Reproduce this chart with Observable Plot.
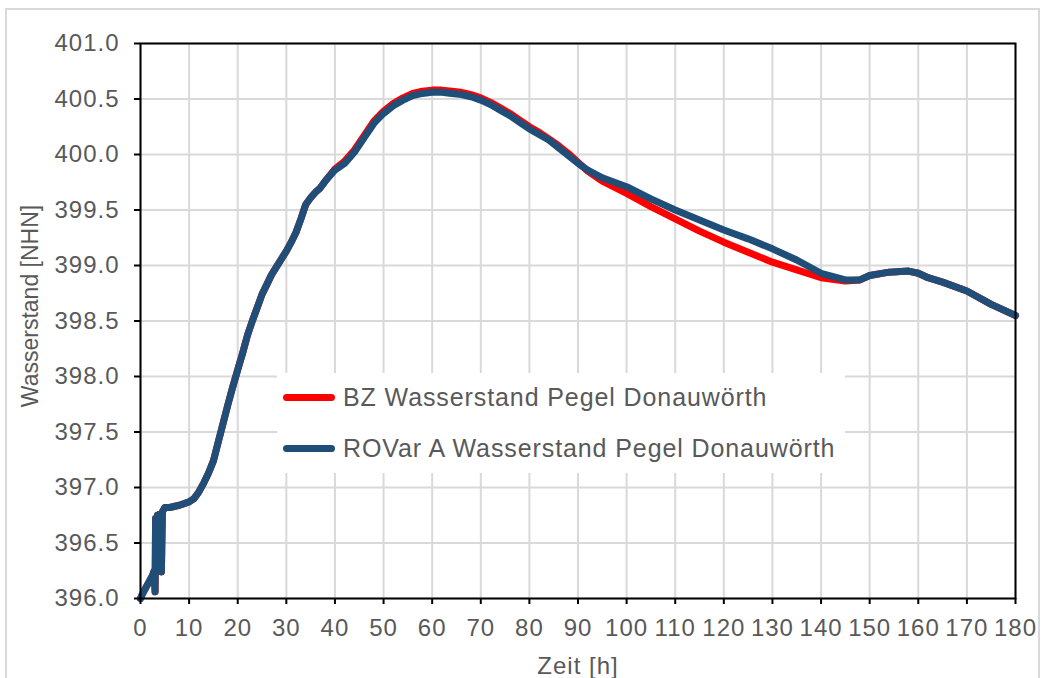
<!DOCTYPE html>
<html>
<head>
<meta charset="utf-8">
<script src="https://cdn.jsdelivr.net/npm/d3@7"></script>
<script src="https://cdn.jsdelivr.net/npm/@observablehq/plot@0.6"></script>
<style>
  html, body { margin: 0; padding: 0; background: #fff; overflow: hidden; }
  #wrap { position: relative; width: 1043px; height: 678px; font-family: "Liberation Sans", Arial, sans-serif; overflow: hidden; }
  #frame { position: absolute; left: 5px; top: 8px; width: 1031px; height: 690px; border: 2px solid #d9d9d9; pointer-events: none; }
  #legend { position: absolute; left: 277px; top: 373px; width: 568px; height: 100px; background: #fff; }
  .item { position: absolute; left: 0; display: flex; align-items: center; font-size: 25px; letter-spacing: 0.9px; color: #595959; white-space: nowrap; }
  .sw { width: 52px; height: 7px; border-radius: 4px; margin-left: 6px; margin-right: 8px; }
  #xlabel { position: absolute; left: 578px; top: 654px; transform: translateX(-50%); font-size: 24px; line-height: 24px; letter-spacing: 1px; color: #595959; white-space: nowrap; }
  #ylabel { position: absolute; left: 30px; top: 306px; transform: translate(-50%, -50%) rotate(-90deg); font-size: 23px; line-height: 24px; color: #595959; white-space: nowrap; }
</style>
</head>
<body>
<div id="wrap">
  <div id="chart"></div>
  <div id="legend"></div>
  <div id="xlabel"></div>
  <div id="ylabel"></div>
  <div id="frame"></div>
</div>
<script>
const hours = [0,0.5,1,1.5,2,2.5,2.8,3.0,3.1,3.3,3.5,3.7,3.9,4.1,4.3,4.5,5,6,8,10,11,12,13,14,15,16,17,18,19,20,21,22,23,24,25,26,27,28,29,30,31,32,33,34,35,36,37,38,40,42,44,46,48,50,52,54,56,58,60,62,64,66,68,70,72,74,76,78,80,82,84,86,88,90,92,95,100,105,110,115,120,125,130,135,140,145,148,150,154,158,160,162,165,170,175,180];

const rovarA = [396.00,396.05,396.09,396.13,396.17,396.21,396.25,396.06,396.72,396.30,396.75,396.40,396.76,396.30,396.24,396.78,396.82,396.82,396.84,396.87,396.90,396.96,397.04,397.13,397.24,397.41,397.58,397.75,397.91,398.06,398.21,398.37,398.50,398.62,398.74,398.83,398.92,398.99,399.06,399.13,399.21,399.30,399.42,399.55,399.61,399.66,399.70,399.76,399.86,399.92,400.02,400.15,400.28,400.37,400.44,400.49,400.53,400.55,400.56,400.56,400.55,400.54,400.52,400.49,400.45,400.40,400.35,400.29,400.23,400.18,400.13,400.06,399.99,399.92,399.86,399.79,399.71,399.60,399.50,399.41,399.32,399.24,399.15,399.05,398.93,398.87,398.87,398.91,398.94,398.95,398.93,398.89,398.85,398.77,398.65,398.55];

const bz = [396.00,396.05,396.09,396.13,396.17,396.21,396.25,396.06,396.72,396.30,396.75,396.40,396.76,396.30,396.24,396.78,396.82,396.82,396.84,396.87,396.90,396.96,397.04,397.13,397.24,397.41,397.58,397.75,397.91,398.06,398.21,398.37,398.50,398.62,398.74,398.83,398.92,398.99,399.06,399.13,399.21,399.30,399.42,399.55,399.61,399.66,399.70,399.76,399.87,399.94,400.04,400.17,400.30,400.39,400.46,400.51,400.55,400.57,400.58,400.58,400.57,400.56,400.54,400.51,400.47,400.42,400.37,400.31,400.25,400.20,400.14,400.08,400.01,399.93,399.85,399.76,399.65,399.53,399.42,399.31,399.21,399.12,399.03,398.96,398.89,398.86,398.87,398.91,398.94,398.95,398.93,398.89,398.85,398.77,398.65,398.55];

const seriesNames = ["BZ Wasserstand Pegel Donauwörth", "ROVar A Wasserstand Pegel Donauwörth"];
const seriesColors = ["#ff0000", "#1f4e79"];
const xTicks = d3.range(0, 181, 10);
const yTicks = d3.range(396, 401.01, 0.5);
const xLabel = "Zeit [h]";
const yLabel = "Wasserstand [NHN]";

const dataBZ = hours.map((h, i) => ({h, v: bz[i]}));
const dataA = hours.map((h, i) => ({h, v: rovarA[i]}));

const chart = Plot.plot({
  width: 1043,
  height: 678,
  marginLeft: 140,
  marginRight: 28,
  marginTop: 43,
  marginBottom: 80,
  style: {fontFamily: "Liberation Sans, Arial, sans-serif", fontSize: "24px", letterSpacing: "1px", color: "#595959", background: "transparent", overflow: "visible"},
  x: {domain: [0, 180]},
  y: {domain: [396, 401]},
  marks: [
    Plot.gridX(xTicks, {stroke: "#d9d9d9", strokeOpacity: 1, strokeWidth: 2}),
    Plot.gridY(yTicks, {stroke: "#d9d9d9", strokeOpacity: 1, strokeWidth: 2}),
    Plot.line(dataBZ, {x: "h", y: "v", stroke: seriesColors[0], strokeWidth: 7, strokeLinejoin: "round", strokeLinecap: "round"}),
    Plot.line(dataA, {x: "h", y: "v", stroke: seriesColors[1], strokeWidth: 7, strokeLinejoin: "round", strokeLinecap: "round"}),
    Plot.frame({stroke: "#000", strokeWidth: 2}),
    Plot.axisX(xTicks, {tickSize: 6, tickPadding: 14, stroke: "#000", strokeWidth: 2, fill: "#595959", fontSize: 24, label: null}),
    Plot.axisY(yTicks, {tickSize: 6, tickPadding: 15, stroke: "#000", strokeWidth: 2, fill: "#595959", fontSize: 24,
      tickFormat: d3.format(".1f"), label: null})
  ]
});
document.getElementById("chart").appendChild(chart);
document.getElementById("xlabel").textContent = xLabel;
document.getElementById("ylabel").textContent = yLabel;

const legend = document.getElementById("legend");
const tops = [10, 61];
seriesNames.forEach((name, i) => {
  const it = document.createElement("div");
  it.className = "item";
  it.style.top = tops[i] + "px";
  const sw = document.createElement("div");
  sw.className = "sw";
  sw.style.background = seriesColors[i];
  const tx = document.createElement("span");
  tx.textContent = name;
  it.appendChild(sw);
  it.appendChild(tx);
  legend.appendChild(it);
});
</script>
</body>
</html>
